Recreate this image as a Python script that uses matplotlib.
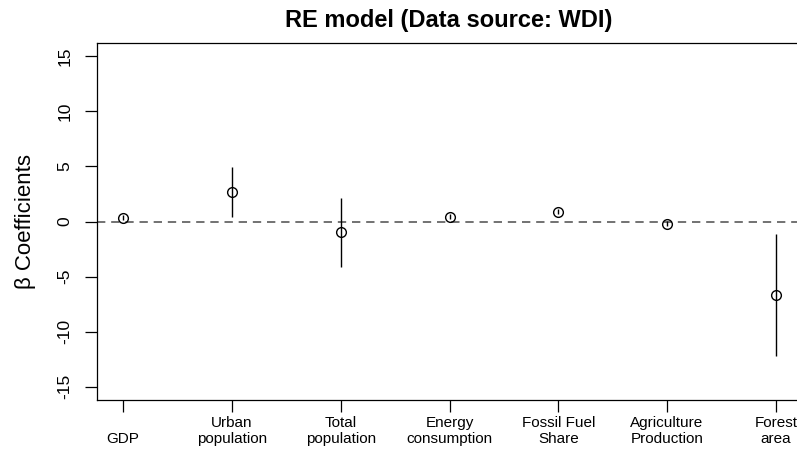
import numpy as np
import matplotlib.pyplot as plt

plt.rcParams['font.family'] = ['Liberation Sans', 'DejaVu Sans']

labels = ['\nGDP', 'Urban\npopulation', 'Total\npopulation', 'Energy\nconsumption',
          'Fossil Fuel\nShare', 'Agriculture\nProduction', 'Forest\narea']
coef = [0.35, 2.7, -0.97, 0.45, 0.9, -0.2, -6.66]
ci_low = [0.1, 0.45, -4.15, 0.2, 0.7, -0.45, -12.2]
ci_high = [0.6, 4.95, 2.13, 0.7, 1.1, 0.05, -1.12]

x = np.arange(1, len(coef) + 1)

fig = plt.figure(figsize=(7.97, 4.49), dpi=100)
# axes run past the right edge, as in the cropped reference
ax = fig.add_axes([97/797, 1 - 400/449, 705/797, 357/449])

ax.axhline(0, color='#5a5a5a', ls=(0, (5, 3.5)), lw=1.2, zorder=1)
ax.vlines(x, ci_low, ci_high, color='black', lw=1.0, zorder=2)
ax.plot(x, coef, 'o', mfc='none', mec='black', ms=7, mew=1.0, zorder=3)

ax.set_xlim(0.76, 7.24)
ax.set_ylim(-16.2, 16.2)
ax.set_yticks([-15, -10, -5, 0, 5, 10, 15])
ax.set_yticklabels(['-15', '-10', '-5', '0', '5', '10', '15'], rotation=90, va='center')
ax.set_xticks(x)
ax.set_xticklabels(labels, linespacing=1.15)
ax.tick_params(direction='out', length=8.5, width=0.9)
ax.tick_params(axis='y', labelsize=12.5, pad=9)
ax.tick_params(axis='x', labelsize=11, pad=3)
for s in ax.spines.values():
    s.set_linewidth(0.9)

ax.set_ylabel('β Coefficients', fontsize=16)
ax.yaxis.set_label_coords(-0.086, 0.5)
fig.text(449 / 797, 1 - 21 / 449, 'RE model (Data source: WDI)', ha='center', va='center',
         fontsize=17, fontweight='bold')

fig.savefig('out.png', dpi=100)
